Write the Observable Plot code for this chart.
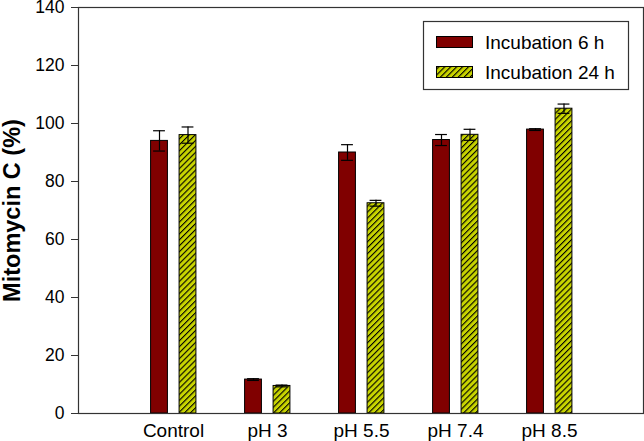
<!DOCTYPE html>
<html>
<head>
<meta charset="utf-8">
<script src="https://cdn.jsdelivr.net/npm/d3@7"></script>
<script src="https://cdn.jsdelivr.net/npm/@observablehq/plot@0.6"></script>
<style>
  html, body { margin: 0; padding: 0; background: #fff; }
  #chart { width: 644px; height: 441px; }
  #chart g[aria-label="y-axis tick label"] text { font-size: 17.5px; }
  #chart g[aria-label="x-axis tick label"] text { font-size: 19px; }
</style>
</head>
<body>
<div id="chart"></div>
<script>
const groups = ["Control", "pH 3", "pH 5.5", "pH 7.4", "pH 8.5"];
const seriesNames = ["Incubation 6 h", "Incubation 24 h"];
const mean6h = [94, 11.7, 90, 94.3, 97.9];
const err6h = [3.5, 0.3, 2.7, 1.9, 0.3];
const mean24h = [96, 9.5, 72.5, 96.1, 105.1];
const err24h = [2.8, 0.3, 1.0, 1.9, 1.6];
const yTicks = [0, 20, 40, 60, 80, 100, 120, 140];
const yTitle = "Mitomycin C (%)";

const rows6 = groups.map((g, i) => ({group: g, series: seriesNames[0], value: mean6h[i], err: err6h[i]}));
const rows24 = groups.map((g, i) => ({group: g, series: seriesNames[1], value: mean24h[i], err: err24h[i]}));

const W = 644, H = 441;
const mL = 78, mR = 1, mT = 7, mB = 28;
const step = (W - mL - mR) / 6;
const barW = 17, capW = 12;
const barInset = (step - barW) / 2;
const capInset = (step - capW) / 2;
const dx6 = -14, dx24 = 14.5;
const axisColor = "#333";
const red = "#800000";
const yellow = "#c8d400";
const fontFam = "'Liberation Sans', Arial, sans-serif";

function seriesMarks(rows, dx, fill) {
  return [
    Plot.barY(rows, {x: "group", y: "value", fill, stroke: "#000", strokeWidth: 1, insetLeft: barInset, insetRight: barInset, dx}),
    Plot.ruleX(rows, {x: "group", y1: d => d.value - d.err, y2: d => d.value + d.err, stroke: "#000", strokeWidth: 1.2, dx}),
    Plot.tickY(rows, {x: "group", y: d => d.value + d.err, stroke: "#000", strokeWidth: 1.2, insetLeft: capInset, insetRight: capInset, dx}),
    Plot.tickY(rows, {x: "group", y: d => d.value - d.err, stroke: "#000", strokeWidth: 1.2, insetLeft: capInset, insetRight: capInset, dx})
  ];
}

const svg = Plot.plot({
  width: W,
  height: H,
  marginLeft: mL,
  marginRight: mR,
  marginTop: mT,
  marginBottom: mB,
  style: {fontFamily: fontFam, fontSize: "17.5px", background: "#fff", color: "#000", overflow: "visible"},
  x: {type: "band", domain: groups, paddingInner: 0, paddingOuter: 0.5, axis: null},
  y: {domain: [0, 140], axis: null},
  marks: [
    ...seriesMarks(rows6, dx6, red),
    ...seriesMarks(rows24, dx24, "url(#hatch)"),
    Plot.axisX({tickSize: 0, tickPadding: 10, fontSize: 19, label: null, stroke: axisColor}),
    Plot.axisY({ticks: yTicks, tickSize: 7, tickPadding: 7, fontSize: 17.5, label: null, stroke: axisColor}),
    Plot.frame({stroke: axisColor, strokeWidth: 1.2}),
    Plot.text([yTitle], {text: d => d, frameAnchor: "left", textAnchor: "middle", dx: -66, rotate: -90, fontSize: 23.5, fontWeight: "bold"})
  ]
});

const s = d3.select(svg);
s.selectAll('g[aria-label="y-axis tick label"]').attr("font-size", 17.5)
  .selectAll("text").attr("font-size", 17.5).style("font-size", "17.5px");
s.selectAll('g[aria-label="x-axis tick label"]').attr("font-size", 19)
  .selectAll("text").attr("font-size", 19).style("font-size", "19px");

// hatch pattern for the 24 h series
const defs = s.insert("defs", ":first-child");
const pat = defs.append("pattern")
  .attr("id", "hatch")
  .attr("patternUnits", "userSpaceOnUse")
  .attr("width", 4.2)
  .attr("height", 4.2)
  .attr("patternTransform", "rotate(45)");
pat.append("rect").attr("width", 4.2).attr("height", 4.2).attr("fill", yellow);
pat.append("line").attr("x1", 0).attr("y1", 0).attr("x2", 0).attr("y2", 4.2)
  .attr("stroke", "#000").attr("stroke-width", 2.2);

// legend inside the plot area
const lg = s.append("g").attr("font-family", fontFam).attr("text-anchor", "start");
lg.append("rect").attr("x", 423.5).attr("y", 21.5).attr("width", 205).attr("height", 68)
  .attr("fill", "#fff").attr("stroke", axisColor).attr("stroke-width", 1.2);
const legendFills = [red, "url(#hatch)"];
const legendY = [36, 66];
seriesNames.forEach((name, i) => {
  lg.append("rect").attr("x", 436.5).attr("y", legendY[i] + 0.5).attr("width", 36).attr("height", 11)
    .attr("fill", legendFills[i]).attr("stroke", "#000").attr("stroke-width", 1);
  lg.append("text").attr("x", 485).attr("y", legendY[i] + 12.5)
    .attr("text-anchor", "start").attr("font-size", 19).attr("fill", "#000").text(name);
});

document.getElementById("chart").appendChild(svg);
</script>
</body>
</html>
